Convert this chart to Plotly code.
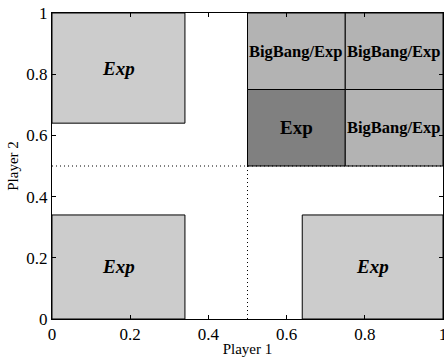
import plotly.graph_objects as go

# Strategy regions in the unit square: (x0, x1, y0, y1)
region_x0 = [0.0, 0.0, 0.64, 0.5, 0.75, 0.5, 0.75]
region_x1 = [0.34, 0.34, 1.0, 0.75, 1.0, 0.75, 1.0]
region_y0 = [0.64, 0.0, 0.0, 0.75, 0.75, 0.5, 0.5]
region_y1 = [1.0, 0.34, 0.34, 1.0, 1.0, 0.75, 0.75]
region_labels = ["Exp", "Exp", "Exp", "BigBang/Exp", "BigBang/Exp", "Exp", "BigBang/Exp"]
region_fill = ["#cccccc", "#cccccc", "#cccccc", "#b3b3b3", "#b3b3b3", "#808080", "#b3b3b3"]
region_italic = [True, True, True, False, False, False, False]

tick_vals = [0, 0.2, 0.4, 0.6, 0.8, 1]
tick_text = ["0", "0.2", "0.4", "0.6", "0.8", "1"]

FONT = "Liberation Serif, Times New Roman, serif"

fig = go.Figure()
fig.add_trace(go.Scatter(x=[0, 1], y=[0, 1], mode="markers",
                         marker=dict(opacity=0), hoverinfo="skip",
                         showlegend=False))

for x0, x1, y0, y1, fill, lab, it in zip(region_x0, region_x1, region_y0,
                                          region_y1, region_fill,
                                          region_labels, region_italic):
    fig.add_shape(type="rect", x0=x0, x1=x1, y0=y0, y1=y1,
                  xref="x", yref="y", fillcolor=fill,
                  line=dict(color="black", width=1), layer="below")
    text = f"<b><i>{lab}</i></b>" if it else f"<b>{lab}</b>"
    size = 19 if lab == "Exp" else 16.5
    fig.add_annotation(x=(x0 + x1) / 2, y=(y0 + y1) / 2, text=text,
                       showarrow=False, xref="x", yref="y",
                       font=dict(family=FONT, size=size, color="black"))

# Dotted threshold lines at 0.5
fig.add_shape(type="line", x0=0.5, x1=0.5, y0=0, y1=1, xref="x", yref="y",
              line=dict(color="black", width=1, dash="1px,3px"))
fig.add_shape(type="line", x0=0, x1=1, y0=0.5, y1=0.5, xref="x", yref="y",
              line=dict(color="black", width=1, dash="1px,3px"))

axis_common = dict(range=[0, 1], tickvals=tick_vals, ticktext=tick_text,
                   ticks="inside", ticklen=4, tickcolor="black",
                   showline=True, linecolor="black", linewidth=1, mirror="ticks",
                   showgrid=False, zeroline=False, ticklabeloverflow="allow",
                   automargin=False,
                   tickfont=dict(family=FONT, size=17, color="black"))

fig.update_xaxes(**axis_common,
                 title=dict(text="Player 1", standoff=0,
                            font=dict(family=FONT, size=15, color="black")))
fig.update_yaxes(**axis_common,
                 title=dict(text="Player 2", standoff=4,
                            font=dict(family=FONT, size=15, color="black")))

fig.update_layout(width=444, height=358,
                  margin=dict(l=52, r=1, t=13, b=39),
                  paper_bgcolor="white", plot_bgcolor="white",
                  showlegend=False)

fig.write_html("out.html")
